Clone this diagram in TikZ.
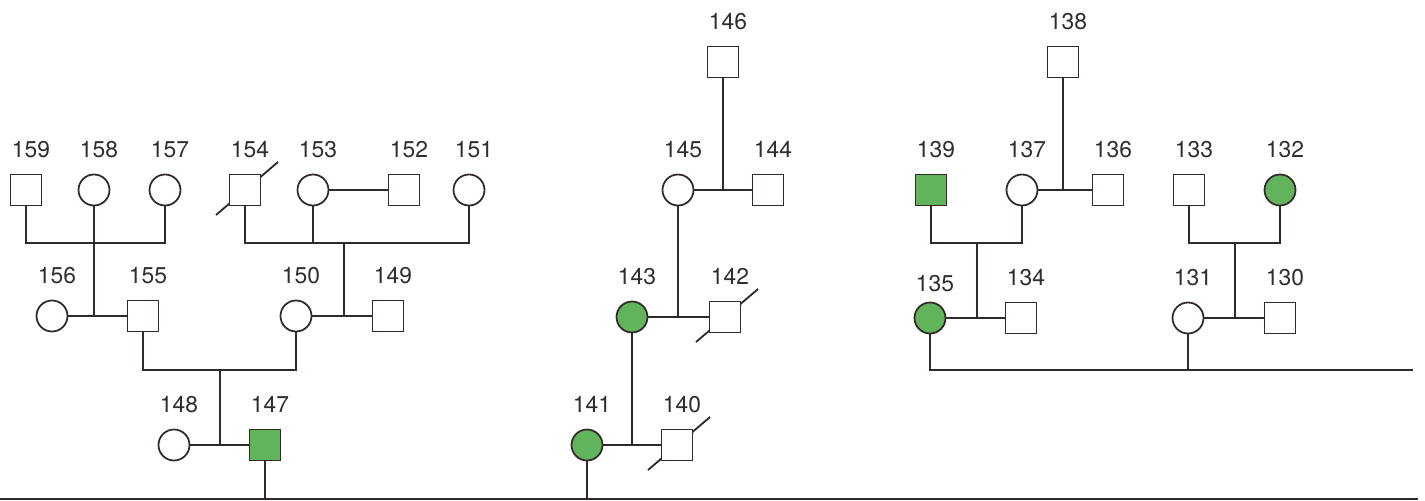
\documentclass[tikz,border=0pt]{standalone}
\usepackage{fontspec}
\setmainfont{TeX Gyre Heros}
\usepackage{tikz}
\usetikzlibrary{positioning,backgrounds}

\definecolor{affgreen}{RGB}{98,180,92}
\definecolor{pedline}{RGB}{50,42,42}

\begin{document}
\begin{tikzpicture}[
    x=0.02cm, y=-0.02cm,
    sq/.style={draw=pedline, fill=white, minimum size=0.62cm, inner sep=0pt, line width=1pt},
    ci/.style={sq, circle},
    aff/.style={fill=affgreen},
    ln/.style={draw=pedline, line width=1.05pt},
    every label/.style={font=\fontsize{13}{15}\selectfont, text=black!82, inner sep=0pt, xshift=0.1cm},
    label distance=0.31cm
  ]
  \useasboundingbox (0,0) rectangle (1425,500);

  % left family
  \node[sq, label=above:159] (n159) at (26,190) {};
  \node[ci, label=above:158] (n158) at (94,190) {};
  \node[ci, label=above:157] (n157) at (165,190) {};
  \node[sq, label=above:154] (n154) at (245,190) {};
  \node[ci, label=above:153] (n153) at (313,190) {};
  \node[sq, label=above:152] (n152) at (404,190) {};
  \node[ci, label=above:151] (n151) at (469,190) {};
  \node[ci, label=above:156] (n156) at (52,316) {};
  \node[sq, label=above:155] (n155) at (143,316) {};
  \node[ci, label=above:150] (n150) at (296,316) {};
  \node[sq, label=above:149] (n149) at (388,316) {};
  \node[ci, label=above:148] (n148) at (174,445) {};
  \node[sq, aff, label=above:147] (n147) at (265,445) {};

  % middle family
  \node[sq, label=above:146] (n146) at (723,62) {};
  \node[ci, label=above:145] (n145) at (678,190) {};
  \node[sq, label=above:144] (n144) at (768,190) {};
  \node[ci, aff, label=above:143] (n143) at (632,317) {};
  \node[sq, label=above:142] (n142) at (725,317) {};
  \node[ci, aff, label=above:141] (n141) at (587,445) {};
  \node[sq, label=above:140] (n140) at (677,445) {};

  % right family
  \node[sq, label=above:138] (n138) at (1063,62) {};
  \node[sq, aff, label=above:139] (n139) at (931,190) {};
  \node[ci, label=above:137] (n137) at (1022,190) {};
  \node[sq, label=above:136] (n136) at (1108,190) {};
  \node[sq, label=above:133] (n133) at (1189,190) {};
  \node[ci, aff, label=above:132] (n132) at (1280,190) {};
  \node[ci, aff, label={[label distance=0.18cm]above:135}] (n135) at (930,318) {};
  \node[sq, label=above:134] (n134) at (1021,318) {};
  \node[ci, label=above:131] (n131) at (1188,318) {};
  \node[sq, label=above:130] (n130) at (1280,318) {};

  \coordinate (s1) at (94,243);
  \coordinate (s2) at (344,243);
  \coordinate (m155) at (220,370);
  \coordinate (m139) at (977,243);
  \coordinate (m133) at (1235,243);
  \coordinate (rr) at (1413,370);
  \coordinate (bl) at (0,499);
  \coordinate (br) at (1418,499);

  % sibships and couples, left
  \draw[ln] (n159) |- (s1) -| (n157);
  \draw[ln] (n158) -- (n158 |- n156);
  \draw[ln] (n154) |- (s2) -| (n151);
  \draw[ln] (n153) -- (n153 |- s2);
  \draw[ln] (s2) -- (s2 |- n150);
  \draw[ln] (n153) -- (n152);
  \draw[ln] (n156) -- (n155);
  \draw[ln] (n150) -- (n149);
  \draw[ln] (n155) |- (m155) -| (n150);
  \draw[ln] (m155) -- (m155 |- n148);
  \draw[ln] (n148) -- (n147);
  \draw[ln] (n147) -- (n147 |- bl);

  % middle
  \draw[ln] (n146) -- (n146 |- n145);
  \draw[ln] (n145) -- (n144);
  \draw[ln] (n145) -- (n145 |- n143);
  \draw[ln] (n143) -- (n142);
  \draw[ln] (n143) -- (n143 |- n141);
  \draw[ln] (n141) -- (n140);
  \draw[ln] (n141) -- (n141 |- bl);

  % right
  \draw[ln] (n138) -- (n138 |- n137);
  \draw[ln] (n137) -- (n136);
  \draw[ln] (n139) |- (m139) -| (n137);
  \draw[ln] (m139) -- (m139 |- n135);
  \draw[ln] (n135) -- (n134);
  \draw[ln] (n133) |- (m133) -| (n132);
  \draw[ln] (m133) -- (m133 |- n131);
  \draw[ln] (n131) -- (n130);
  \draw[ln] (n135) |- (rr);
  \draw[ln] (n131) -- (n131 |- rr);

  \draw[ln] (bl) -- (br);

  % deceased: slash behind the white box
  \begin{pgfonlayer}{background}
    \foreach \d in {n154,n142,n140}
      \draw[ln] ([shift={(-29,25)}]\d.center) -- ([shift={(33,-28)}]\d.center);
  \end{pgfonlayer}
\end{tikzpicture}
\end{document}
